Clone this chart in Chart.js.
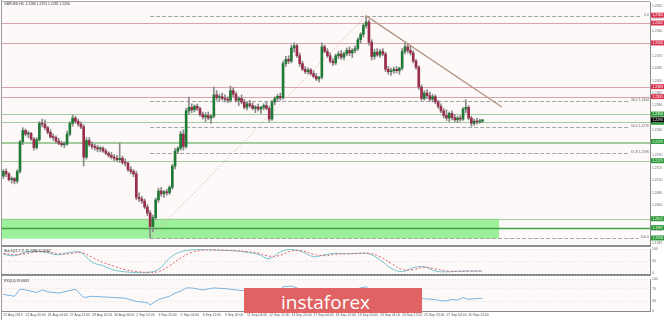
<!DOCTYPE html>
<html><head><meta charset="utf-8">
<script src="https://cdn.jsdelivr.net/npm/chart.js@4.4.1/dist/chart.umd.min.js"></script>
<style>
html,body{margin:0;padding:0;background:#fff;}
#wrap{position:relative;width:665px;height:320px;overflow:hidden;background:#fff;}
canvas{position:absolute;left:0;}
.sep{position:absolute;left:1px;width:650px;height:2px;background:#8c8c8c;}
#wm{position:absolute;left:244px;top:288px;width:178px;height:25px;background:#e06262;overflow:hidden;}
#wm span{position:absolute;left:37px;top:2px;color:#fff;font:400 19px 'Open Sans',sans-serif;line-height:25px;white-space:nowrap;}
</style></head><body>
<div id="wrap">
<canvas id="main" width="665" height="245" style="top:0"></canvas>
<div class="sep" style="top:245px"></div>
<canvas id="stoch" width="665" height="27" style="top:247px"></canvas>
<div class="sep" style="top:274px"></div>
<canvas id="rsi" width="665" height="44" style="top:276px"></canvas>
<div id="wm"><span>instaforex</span></div>
</div>
<script>
// ---------- DATA ----------
const N_SLOTS = 234;
const headerText = "GBPUSD,H4  1.2286 1.2291 1.2282 1.2290";
const xTickIdx = [0,8,16,24,32,40,48,56,64,72,80,88,96,104,112,120,128,136,144,152,160,168];
const xTickText = ["21 Aug 2019","22 Aug 20:00","26 Aug 04:00","27 Aug 12:00","28 Aug 20:00","30 Aug 04:00","2 Sep 12:00","3 Sep 20:00","5 Sep 04:00","6 Sep 12:00","9 Sep 20:00","11 Sep 04:00","12 Sep 12:00","13 Sep 20:00","17 Sep 04:00","18 Sep 12:00","19 Sep 20:00","23 Sep 04:00","24 Sep 12:00","25 Sep 20:00","27 Sep 04:00","30 Sep 12:00"];

const open = [1.2132,1.2145,1.2138,1.2122,1.2125,1.2118,1.2145,1.2228,1.2260,1.2250,
1.2252,1.2236,1.2212,1.2234,1.2280,1.2278,1.2268,1.2255,1.2242,1.2240,
1.2230,1.2224,1.2220,1.2222,1.2250,1.2280,1.2295,1.2286,1.2278,1.2270,
1.2185,1.2232,1.2220,1.2215,1.2212,1.2208,1.2210,1.2202,1.2196,1.2190,
1.2185,1.2182,1.2178,1.2182,1.2170,1.2168,1.2150,1.2145,1.2138,1.2072,
1.2068,1.2062,1.2045,1.2028,1.1990,1.2015,1.2065,1.2090,1.2082,1.2088,
1.2085,1.2100,1.2160,1.2202,1.2210,1.2250,1.2215,1.2315,1.2325,1.2318,
1.2328,1.2322,1.2305,1.2298,1.2302,1.2295,1.2300,1.2360,1.2352,1.2355,
1.2350,1.2348,1.2345,1.2372,1.2362,1.2345,1.2350,1.2340,1.2325,1.2335,
1.2330,1.2322,1.2326,1.2320,1.2325,1.2330,1.2322,1.2292,1.2340,1.2350,
1.2356,1.2352,1.2448,1.2460,1.2455,1.2492,1.2498,1.2470,1.2448,1.2432,
1.2425,1.2430,1.2420,1.2412,1.2405,1.2410,1.2495,1.2482,1.2470,1.2455,
1.2450,1.2470,1.2475,1.2466,1.2476,1.2485,1.2478,1.2485,1.2490,1.2515,
1.2530,1.2555,1.2565,1.2508,1.2468,1.2480,1.2472,1.2482,1.2475,1.2432,
1.2425,1.2428,1.2432,1.2428,1.2435,1.2482,1.2495,1.2485,1.2478,1.2455,
1.2438,1.2382,1.2350,1.2365,1.2358,1.2348,1.2355,1.2340,1.2328,1.2315,
1.2302,1.2295,1.2308,1.2296,1.2290,1.2295,1.2292,1.2320,1.2325,1.2295,
1.2280,1.2286,1.2284,1.2286];
const high = [1.2150,1.2152,1.2142,1.2130,1.2128,1.2150,1.2232,1.2268,1.2264,1.2258,
1.2255,1.2240,1.2240,1.2285,1.2292,1.2290,1.2272,1.2262,1.2250,1.2245,
1.2238,1.2230,1.2228,1.2258,1.2285,1.2304,1.2300,1.2292,1.2284,1.2276,
1.2240,1.2240,1.2228,1.2222,1.2218,1.2215,1.2214,1.2208,1.2200,1.2198,
1.2192,1.2190,1.2225,1.2188,1.2180,1.2172,1.2158,1.2150,1.2145,1.2085,
1.2075,1.2068,1.2052,1.2035,1.2022,1.2070,1.2098,1.2100,1.2092,1.2095,
1.2105,1.2165,1.2210,1.2215,1.2258,1.2262,1.2322,1.2354,1.2335,1.2332,
1.2334,1.2326,1.2312,1.2310,1.2312,1.2305,1.2382,1.2372,1.2362,1.2365,
1.2360,1.2355,1.2385,1.2380,1.2368,1.2355,1.2360,1.2348,1.2340,1.2345,
1.2338,1.2330,1.2334,1.2328,1.2335,1.2340,1.2328,1.2345,1.2355,1.2362,
1.2365,1.2455,1.2468,1.2470,1.2500,1.2506,1.2502,1.2478,1.2455,1.2440,
1.2436,1.2434,1.2428,1.2420,1.2412,1.2506,1.2500,1.2490,1.2478,1.2462,
1.2475,1.2482,1.2485,1.2480,1.2492,1.2495,1.2490,1.2498,1.2520,1.2535,
1.2560,1.2582,1.2570,1.2515,1.2488,1.2490,1.2488,1.2490,1.2480,1.2440,
1.2435,1.2438,1.2440,1.2438,1.2490,1.2506,1.2502,1.2498,1.2484,1.2460,
1.2442,1.2388,1.2372,1.2375,1.2368,1.2362,1.2360,1.2345,1.2335,1.2322,
1.2318,1.2312,1.2315,1.2305,1.2300,1.2302,1.2325,1.2346,1.2330,1.2300,
1.2292,1.2294,1.2292,1.2291];
const low = [1.2125,1.2130,1.2118,1.2112,1.2110,1.2112,1.2140,1.2220,1.2245,1.2240,
1.2232,1.2205,1.2208,1.2230,1.2270,1.2262,1.2250,1.2238,1.2232,1.2225,
1.2220,1.2215,1.2212,1.2218,1.2245,1.2272,1.2280,1.2272,1.2265,1.2160,
1.2180,1.2215,1.2208,1.2205,1.2200,1.2200,1.2198,1.2192,1.2185,1.2180,
1.2175,1.2172,1.2170,1.2165,1.2160,1.2145,1.2138,1.2130,1.2065,1.2060,
1.2055,1.2040,1.2020,1.1958,1.1975,1.2010,1.2058,1.2075,1.2072,1.2078,
1.2080,1.2095,1.2152,1.2195,1.2205,1.2205,1.2210,1.2305,1.2310,1.2312,
1.2316,1.2300,1.2292,1.2285,1.2290,1.2280,1.2295,1.2345,1.2342,1.2345,
1.2340,1.2338,1.2340,1.2355,1.2340,1.2330,1.2335,1.2320,1.2318,1.2325,
1.2318,1.2310,1.2315,1.2308,1.2318,1.2318,1.2285,1.2288,1.2332,1.2342,
1.2345,1.2348,1.2440,1.2448,1.2450,1.2480,1.2465,1.2440,1.2428,1.2420,
1.2418,1.2415,1.2408,1.2400,1.2396,1.2405,1.2478,1.2465,1.2450,1.2442,
1.2445,1.2462,1.2460,1.2458,1.2470,1.2470,1.2465,1.2478,1.2485,1.2505,
1.2522,1.2548,1.2500,1.2458,1.2460,1.2468,1.2465,1.2470,1.2425,1.2418,
1.2415,1.2420,1.2422,1.2418,1.2430,1.2475,1.2478,1.2472,1.2450,1.2432,
1.2375,1.2345,1.2345,1.2350,1.2342,1.2340,1.2335,1.2322,1.2310,1.2295,
1.2288,1.2285,1.2290,1.2285,1.2282,1.2286,1.2288,1.2310,1.2290,1.2272,
1.2274,1.2278,1.2280,1.2282];
const close = [1.2145,1.2138,1.2122,1.2125,1.2118,1.2145,1.2228,1.2260,1.2250,1.2252,
1.2236,1.2212,1.2234,1.2280,1.2278,1.2268,1.2255,1.2242,1.2240,1.2230,
1.2224,1.2220,1.2222,1.2250,1.2280,1.2295,1.2286,1.2278,1.2270,1.2185,
1.2232,1.2220,1.2215,1.2212,1.2208,1.2210,1.2202,1.2196,1.2190,1.2185,
1.2182,1.2178,1.2182,1.2170,1.2168,1.2150,1.2145,1.2138,1.2072,1.2068,
1.2062,1.2045,1.2028,1.1990,1.2015,1.2065,1.2090,1.2082,1.2088,1.2085,
1.2100,1.2160,1.2202,1.2210,1.2250,1.2215,1.2315,1.2325,1.2318,1.2328,
1.2322,1.2305,1.2298,1.2302,1.2295,1.2300,1.2360,1.2352,1.2355,1.2350,
1.2348,1.2345,1.2372,1.2362,1.2345,1.2350,1.2340,1.2325,1.2335,1.2330,
1.2322,1.2326,1.2320,1.2325,1.2330,1.2322,1.2292,1.2340,1.2350,1.2356,
1.2352,1.2448,1.2460,1.2455,1.2492,1.2498,1.2470,1.2448,1.2432,1.2425,
1.2430,1.2420,1.2412,1.2405,1.2410,1.2495,1.2482,1.2470,1.2455,1.2450,
1.2470,1.2475,1.2466,1.2476,1.2485,1.2478,1.2485,1.2490,1.2515,1.2530,
1.2555,1.2565,1.2508,1.2468,1.2480,1.2472,1.2482,1.2475,1.2432,1.2425,
1.2428,1.2432,1.2428,1.2435,1.2482,1.2495,1.2485,1.2478,1.2455,1.2438,
1.2382,1.2350,1.2365,1.2358,1.2348,1.2355,1.2340,1.2328,1.2315,1.2302,
1.2295,1.2308,1.2296,1.2290,1.2295,1.2292,1.2320,1.2325,1.2295,1.2280,
1.2286,1.2284,1.2286,1.2290];

const priceTicks = [1.2610,1.2575,1.2540,1.2505,1.2470,1.2435,1.2400,1.2365,1.2330,1.2295,1.2260,1.2225,1.2190,1.2155,1.2120,1.2085,1.2050,1.2015,1.1980,1.1945];
const redLevels = [1.2562,1.2506,1.2383,1.2355];
const redLabels = [1.2584,1.2562,1.2506,1.2383,1.2355];
const greenLevels = [1.2306,1.2283,1.2229,1.2224,1.2175,1.2012];
const greenLabels = [1.2306,1.2283,1.2229,1.2175,1.2012,1.1987,1.1958];
const zoneMidLevels = [1.1987];
const zoneTop = 1.2012, zoneBottom = 1.1956, zoneEndIdx = 179;
const currentPrice = 1.2290;
const fibStartIdx = 53;
const fibPrices = [1.2582,1.2344,1.2270,1.2196,1.1958];
const fibText = ["0.0","38.2 1.2344","50.0 1.2270","61.8 1.2196","100.0"];
const fibDiagIdx = [53,131], fibDiagVal = [1.1958,1.2582];
const trendIdx = [131,180], trendVal = [1.2582,1.2326];

const stochIdx = [0,4,8,12,16,20,24,28,32,36,40,44,48,52,56,60,64,68,72,76,80,84,88,92,96,100,104,108,112,116,120,124,128,132,136,140,144,148,152,156,160,164,168,172,173];
const stochK = [78,72,86,90,84,76,86,85,45,30,12,5,2,2,15,62,88,96,97,96,94,92,86,78,60,88,98,88,68,76,82,80,82,80,55,20,6,22,26,8,5,7,8,8,9];
const stochD = [82,76,80,88,88,80,80,86,66,44,28,14,6,3,6,30,62,86,95,96,95,93,89,83,70,74,92,92,78,72,78,80,81,82,68,40,15,14,24,17,9,7,8,8,8];
const stochTicks = [0,20,50,80,100];
const stochText = "Stoch(21,7,7) 16.7386 15.9062";

const rsiIdx = [0,4,6,8,12,14,16,20,24,26,29,32,36,40,44,48,52,53,56,60,62,64,66,68,72,76,80,84,88,92,96,97,100,101,104,108,112,115,120,124,128,131,133,136,138,140,144,146,148,150,152,156,158,160,162,164,166,168,170,173];
const rsiVal = [52,46,68,66,58,66,60,56,64,68,42,46,44,42,40,30,26,19,36,46,56,62,72,72,66,72,70,66,62,60,54,64,66,76,78,66,60,70,64,66,70,76,60,58,50,50,58,60,52,40,38,36,32,32,36,34,42,36,38,40];
const rsiTicks = [0,20,30,50,70,80,100];
const rsiText = "RSI(14) 39.0683";

// ---------- BUILD ----------
const xLabels = new Array(N_SLOTS).fill('');
xTickIdx.forEach((k,j)=>{ xLabels[k] = xTickText[j]; });
function sparse(idx, vals){ const a = new Array(N_SLOTS).fill(null); idx.forEach((k,j)=>{ a[k]=vals[j]; }); return a; }
const FONT = 'Arial';
const FS = 3.4;
const PLOT_BG = '#fdf9f9';
function fitY(s){ s.width = 15; s.paddingTop = 0; s.paddingBottom = 0; }
function fitX(s){ s.height = 9; s.paddingLeft = 0; s.paddingRight = 0; }

function bgPlugin(header){
  return {
    id:'bg_'+Math.floor(Math.random()*1e6),
    beforeDraw(c){
      const {ctx, chartArea:a} = c;
      ctx.save();
      ctx.fillStyle = PLOT_BG;
      ctx.fillRect(a.left, a.top, a.right-a.left, a.bottom-a.top);
      ctx.strokeStyle = '#9a9a9a'; ctx.lineWidth = 1;
      ctx.beginPath(); ctx.moveTo(1.5, 0); ctx.lineTo(1.5, c.height); ctx.stroke();
      ctx.restore();
    },
    afterDraw(c){
      if(!header) return;
      const {ctx, chartArea:a} = c;
      ctx.save();
      ctx.font = FS + 'px ' + FONT; ctx.fillStyle = '#333'; ctx.textBaseline = 'middle'; ctx.textAlign='left';
      ctx.fillText(header, a.left + 2, a.top + 2.5);
      ctx.restore();
    }
  };
}

const mainDecor = {
  id:'mainDecor',
  beforeDatasetsDraw(c){
    const {ctx, chartArea:a, scales:{x,y}} = c;
    ctx.save();
    ctx.strokeStyle='#a8a8a8'; ctx.lineWidth=1;
    ctx.beginPath(); ctx.moveTo(a.left, 1.5); ctx.lineTo(a.right, 1.5); ctx.stroke();
    ctx.beginPath(); ctx.rect(a.left, a.top, a.right-a.left, a.bottom-a.top); ctx.clip();
    const zx2 = x.getPixelForValue(zoneEndIdx);
    const zy1 = y.getPixelForValue(zoneTop), zy2 = y.getPixelForValue(zoneBottom);
    ctx.fillStyle = '#9cf09c';
    ctx.fillRect(a.left, zy1, zx2-a.left, zy2-zy1);
    const hline = (v, color, w, dash, x1, x2)=>{
      const yy = Math.round(y.getPixelForValue(v)) + 0.5;
      ctx.beginPath(); ctx.setLineDash(dash||[]); ctx.lineWidth = w; ctx.strokeStyle = color;
      ctx.moveTo(x1===undefined?a.left:x1, yy); ctx.lineTo(x2===undefined?a.right:x2, yy); ctx.stroke();
    };
    redLevels.forEach(v=>hline(v,'#dba3ae',1));
    greenLevels.forEach(v=>hline(v,'#a3cc9c',1));
    zoneMidLevels.forEach(v=>hline(v,'#3f9e3f',1.6));
    ctx.font = FS + 'px ' + FONT;
    const fx1 = x.getPixelForValue(fibStartIdx);
    fibPrices.forEach((v,j)=>{
      const tw = ctx.measureText(fibText[j]).width;
      hline(v,'#a4a4a4',1,[4,2], fx1, a.right - tw - 3);
    });
    ctx.restore();
  },
  afterDraw(c){
    const {ctx, chartArea:a, scales:{y}} = c;
    ctx.save();
    ctx.font = FS + 'px ' + FONT;
    ctx.fillStyle = '#666'; ctx.textAlign='right'; ctx.textBaseline='middle';
    fibPrices.forEach((v,j)=>{ ctx.fillText(fibText[j], a.right-1, y.getPixelForValue(v)-1); });
    const box = (v, bg)=>{
      const yy = y.getPixelForValue(v);
      ctx.fillStyle = bg; ctx.fillRect(a.right+1, yy-2.5, 13, 5);
      ctx.fillStyle = '#fff'; ctx.textAlign='left'; ctx.textBaseline='middle';
      ctx.fillText(v.toFixed(4), a.right+2.5, yy+0.2);
    };
    redLabels.forEach(v=>box(v,'#d8344f'));
    greenLabels.forEach(v=>box(v,'#2f9a3a'));
    box(currentPrice,'#000');
    ctx.restore();
  }
};

new Chart(document.getElementById('main'), {
  type:'bar',
  data:{
    labels:xLabels,
    datasets:[
      {type:'line', data:sparse(fibDiagIdx,fibDiagVal), spanGaps:true, borderColor:'#e3a2ab', borderWidth:1, borderDash:[1,2], pointRadius:0, order:3},
      {label:'wick', data:low.map((l,i)=>[l,high[i]]), backgroundColor:'#8a8a8a', barThickness:1, grouped:false, order:2},
      {label:'body', data:open.map((o,i)=>[o,close[i]]), backgroundColor:open.map((o,i)=>close[i]>=o?'#1f7a35':'#9a2c4c'), barThickness:2, minBarLength:1, grouped:false, order:1},
      {type:'line', data:sparse(trendIdx,trendVal), spanGaps:true, borderColor:'#b39480', borderWidth:1.3, pointRadius:0, order:0}
    ]
  },
  options:{
    responsive:false, animation:false, events:[],
    layout:{padding:{left:2, top:2, right:0, bottom:1}},
    plugins:{legend:{display:false}, tooltip:{enabled:false}},
    scales:{
      x:{display:false, offset:true},
      y:{position:'right', min:1.1941, max:1.2621,
         grid:{display:false, drawTicks:false},
         border:{display:true, color:'#8a8a8a'},
         afterBuildTicks:s=>{ s.ticks = priceTicks.map(v=>({value:v})); },
         afterFit:fitY,
         ticks:{font:{size:FS, family:FONT}, color:'#666', padding:2, callback:v=>Number(v).toFixed(4)}}
    }
  },
  plugins:[bgPlugin(headerText), mainDecor]
});

new Chart(document.getElementById('stoch'), {
  type:'line',
  data:{
    labels:xLabels,
    datasets:[
      {data:sparse(stochIdx,stochD), spanGaps:true, borderColor:'#e0606e', borderWidth:1, borderDash:[2,2], pointRadius:0, tension:0.4},
      {data:sparse(stochIdx,stochK), spanGaps:true, borderColor:'#74c4d0', borderWidth:1, pointRadius:0, tension:0.4}
    ]
  },
  options:{
    responsive:false, animation:false, events:[],
    layout:{padding:{left:2, top:2, right:0, bottom:1}},
    plugins:{legend:{display:false}, tooltip:{enabled:false}},
    scales:{
      x:{display:false, offset:true},
      y:{position:'right', min:0, max:100,
         grid:{display:true, color:'#dedede', drawTicks:false},
         border:{display:true, color:'#8a8a8a', dash:[1,2]},
         afterBuildTicks:s=>{ s.ticks = stochTicks.map(v=>({value:v})); },
         afterFit:fitY,
         ticks:{font:{size:FS, family:FONT}, color:'#666', padding:2}}
    }
  },
  plugins:[bgPlugin(stochText)]
});

new Chart(document.getElementById('rsi'), {
  type:'line',
  data:{
    labels:xLabels,
    datasets:[
      {data:sparse(rsiIdx,rsiVal), spanGaps:true, borderColor:'#7bb4e2', borderWidth:1, pointRadius:0, tension:0}
    ]
  },
  options:{
    responsive:false, animation:false, events:[],
    layout:{padding:{left:2, top:3, right:0, bottom:0}},
    plugins:{legend:{display:false}, tooltip:{enabled:false}},
    scales:{
      x:{display:true, offset:true, position:'bottom',
         grid:{display:false, drawTicks:false},
         border:{display:true, color:'#8a8a8a'},
         afterFit:fitX,
         ticks:{autoSkip:false, maxRotation:0, minRotation:0, align:'start', padding:2,
                font:{size:FS, family:FONT}, color:'#555',
                callback:(v,i)=>xLabels[i]}},
      y:{position:'right', min:0, max:100,
         grid:{display:true, color:'#e2e2e2', drawTicks:false},
         border:{display:true, color:'#8a8a8a', dash:[1,2]},
         afterBuildTicks:s=>{ s.ticks = rsiTicks.map(v=>({value:v})); },
         afterFit:fitY,
         ticks:{font:{size:FS, family:FONT}, color:'#666', padding:2}}
    }
  },
  plugins:[bgPlugin(rsiText)]
});
</script>
</body></html>
